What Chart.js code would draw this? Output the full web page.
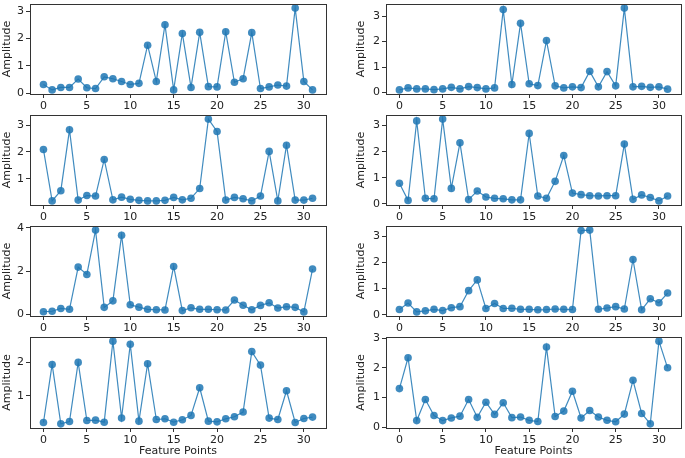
<!DOCTYPE html>
<html>
<head>
<meta charset="utf-8">
<script src="https://cdn.jsdelivr.net/npm/chart.js@4/dist/chart.umd.min.js"></script>
<style>
  body { margin: 0; background: #fff; }
  #wrap { position: relative; width: 685px; height: 458px; overflow: hidden; }
  canvas { position: absolute; }
</style>
</head>
<body>
<div id="wrap"></div>
<script>
// feature point indices 0..31
const points = [0,1,2,3,4,5,6,7,8,9,10,11,12,13,14,15,16,17,18,19,20,21,22,23,24,25,26,27,28,29,30,31];
const xTicks = [0, 5, 10, 15, 20, 25, 30];

// amplitudes per panel (row by row, left then right)
const ampA = [0.32,0.12,0.21,0.21,0.52,0.20,0.17,0.60,0.53,0.43,0.32,0.36,1.76,0.43,2.51,0.12,
              2.19,0.21,2.23,0.24,0.23,2.25,0.40,0.53,2.22,0.17,0.23,0.30,0.26,3.12,0.43,0.12];
const ampB = [0.10,0.18,0.14,0.14,0.11,0.14,0.20,0.14,0.23,0.19,0.14,0.18,3.26,0.31,2.72,0.34,
              0.27,2.04,0.26,0.18,0.22,0.19,0.83,0.22,0.82,0.26,3.32,0.22,0.24,0.20,0.22,0.13];
const ampC = [2.09,0.18,0.56,2.82,0.21,0.38,0.36,1.72,0.22,0.32,0.24,0.20,0.18,0.18,0.20,0.31,
              0.22,0.28,0.64,3.22,2.76,0.21,0.31,0.26,0.18,0.36,2.02,0.18,2.25,0.21,0.21,0.28];
const ampD = [0.79,0.13,3.18,0.21,0.19,3.25,0.59,2.34,0.16,0.49,0.26,0.21,0.19,0.15,0.15,2.70,
              0.30,0.21,0.86,1.85,0.41,0.35,0.31,0.30,0.31,0.31,2.29,0.17,0.34,0.24,0.11,0.30];
const ampE = [0.13,0.15,0.28,0.24,2.19,1.85,3.90,0.33,0.63,3.66,0.45,0.34,0.24,0.22,0.21,2.22,
              0.18,0.31,0.24,0.24,0.22,0.21,0.67,0.43,0.22,0.42,0.54,0.30,0.36,0.33,0.12,2.10];
const ampF = [0.20,0.45,0.11,0.15,0.21,0.16,0.27,0.31,0.92,1.33,0.24,0.43,0.24,0.25,0.21,0.21,
              0.19,0.20,0.22,0.21,0.20,3.21,3.23,0.21,0.26,0.31,0.22,2.11,0.19,0.61,0.46,0.83];
const ampG = [0.21,1.93,0.17,0.24,1.99,0.27,0.28,0.22,2.62,0.34,2.53,0.25,1.95,0.30,0.32,0.22,
              0.29,0.42,1.24,0.25,0.23,0.32,0.38,0.52,2.31,1.91,0.34,0.30,1.15,0.21,0.33,0.37];
const ampH = [1.30,2.34,0.22,0.93,0.39,0.22,0.31,0.37,0.93,0.33,0.84,0.43,0.82,0.32,0.34,0.23,
              0.19,2.70,0.36,0.54,1.21,0.31,0.56,0.34,0.23,0.18,0.44,1.58,0.46,0.11,2.90,2.00];

const panels = [
  { data: ampA, col: 0, row: 0, step: 1 },
  { data: ampB, col: 1, row: 0, step: 1 },
  { data: ampC, col: 0, row: 1, step: 1 },
  { data: ampD, col: 1, row: 1, step: 1 },
  { data: ampE, col: 0, row: 2, step: 2 },
  { data: ampF, col: 1, row: 2, step: 1 },
  { data: ampG, col: 0, row: 3, step: 1 },
  { data: ampH, col: 1, row: 3, step: 1 }
];

const blue = 'rgba(31,119,180,0.85)';
const ink = '#333';
const font = { family: 'DejaVu Sans', size: 11 };

// black box round the plot area, like matplotlib spines
const frame = {
  id: 'frame',
  afterDraw(chart) {
    const a = chart.chartArea, c = chart.ctx;
    c.save();
    c.strokeStyle = ink;
    c.lineWidth = 1;
    c.strokeRect(Math.round(a.left) + 0.5, Math.round(a.top) + 0.5,
                 Math.round(a.right - a.left), Math.round(a.bottom - a.top));
    c.restore();
  }
};

// drop the room chart.js keeps for overhanging tick labels
function noOverhang(s) {
  s.paddingTop = 0; s.paddingBottom = 0; s.paddingLeft = 0; s.paddingRight = 0;
}

const wrap = document.getElementById('wrap');

panels.forEach(p => {
  const last = p.row === 3;
  const cv = document.createElement('canvas');
  const left = p.col === 0 ? 0 : 351;
  const width = p.col === 0 ? 330 : 334;
  const height = last ? 125 : 110;
  cv.style.left = left + 'px';
  cv.style.top = (p.row * 111) + 'px';
  cv.width = width; cv.height = height;
  cv.style.width = width + 'px'; cv.style.height = height + 'px';
  wrap.appendChild(cv);

  const lo = Math.min(...p.data), hi = Math.max(...p.data);
  const pad = (hi - lo) * 0.05;

  new Chart(cv, {
    type: 'line',
    data: {
      datasets: [{
        data: points.map((x, i) => ({ x: x, y: p.data[i] })),
        borderColor: blue,
        borderWidth: 1.2,
        backgroundColor: blue,
        pointBackgroundColor: blue,
        pointBorderWidth: 0,
        pointRadius: 3.8,
        tension: 0
      }]
    },
    options: {
      responsive: false,
      animation: false,
      events: [],
      layout: { padding: { top: 2, right: p.col === 0 ? 4 : 3, left: 0, bottom: 0 } },
      plugins: { legend: { display: false }, tooltip: { enabled: false } },
      scales: {
        x: {
          type: 'linear',
          min: -1.55, max: 32.55,
          afterBuildTicks: s => { s.ticks = xTicks.map(v => ({ value: v })); },
          afterFit: s => { s.height = last ? 30 : 16; noOverhang(s); },
          ticks: { font: font, color: '#222', padding: 2, maxRotation: 0 },
          grid: { drawOnChartArea: false, drawTicks: true, tickLength: 4, color: ink },
          border: { display: false },
          title: { display: last, text: 'Feature Points', font: font, color: '#222', padding: { top: 0, bottom: 0 } }
        },
        y: {
          min: lo - pad, max: hi + pad,
          afterFit: s => { s.width = p.col === 0 ? 30 : 35; noOverhang(s); },
          ticks: { stepSize: p.step, includeBounds: false, font: font, color: '#222', padding: 2 },
          grid: { drawOnChartArea: false, drawTicks: true, tickLength: 4, color: ink },
          border: { display: false },
          title: { display: true, text: 'Amplitude', font: font, color: '#222', padding: { top: p.col === 0 ? 1 : 4, bottom: 0 } }
        }
      }
    },
    plugins: [frame]
  });
});
</script>
</body>
</html>
